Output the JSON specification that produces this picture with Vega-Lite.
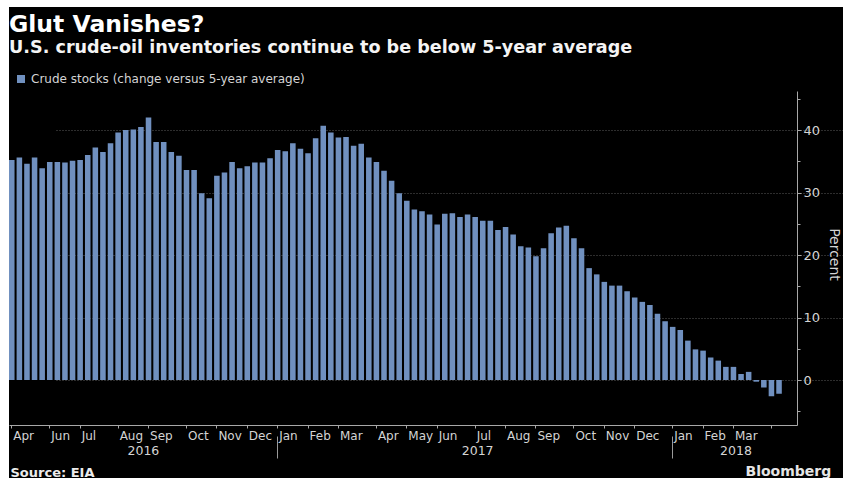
{
  "$schema": "https://vega.github.io/schema/vega-lite/v6.json",
  "width": 834,
  "height": 471,
  "autosize": "none",
  "padding": {"left": 9, "top": 7, "right": 0, "bottom": 0},
  "background": "#ffffff",
  "config": {
    "font": "DejaVu Sans",
    "view": {"fill": "#000000", "stroke": null}
  },
  "title": {
    "text": "Glut Vanishes?",
    "subtitle": "U.S. crude-oil inventories continue to be below 5-year average",
    "anchor": "start",
    "frame": "group",
    "orient": "top",
    "offset": -50,
    "fontSize": 23.5,
    "fontWeight": "bold",
    "color": "#ffffff",
    "subtitleFontSize": 17.6,
    "subtitleFontWeight": "bold",
    "subtitleColor": "#f4f4f4",
    "subtitlePadding": 3
  },
  "data": {
    "values": [
      {"week": "2016-04-29", "value": 35.2},
      {"week": "2016-05-06", "value": 35.6},
      {"week": "2016-05-13", "value": 34.6},
      {"week": "2016-05-20", "value": 35.6},
      {"week": "2016-05-27", "value": 33.9},
      {"week": "2016-06-03", "value": 34.9},
      {"week": "2016-06-10", "value": 34.9},
      {"week": "2016-06-17", "value": 34.8},
      {"week": "2016-06-24", "value": 35.1},
      {"week": "2016-07-01", "value": 35.2},
      {"week": "2016-07-08", "value": 36.0},
      {"week": "2016-07-15", "value": 37.2},
      {"week": "2016-07-22", "value": 36.5},
      {"week": "2016-07-29", "value": 37.9},
      {"week": "2016-08-05", "value": 39.6},
      {"week": "2016-08-12", "value": 40.0},
      {"week": "2016-08-19", "value": 40.1},
      {"week": "2016-08-26", "value": 40.5},
      {"week": "2016-09-02", "value": 42.0},
      {"week": "2016-09-09", "value": 38.1},
      {"week": "2016-09-16", "value": 38.1},
      {"week": "2016-09-23", "value": 36.5},
      {"week": "2016-09-30", "value": 35.9},
      {"week": "2016-10-07", "value": 33.6},
      {"week": "2016-10-14", "value": 33.6},
      {"week": "2016-10-21", "value": 29.9},
      {"week": "2016-10-28", "value": 29.1},
      {"week": "2016-11-04", "value": 32.7},
      {"week": "2016-11-11", "value": 33.2},
      {"week": "2016-11-18", "value": 34.9},
      {"week": "2016-11-25", "value": 33.9},
      {"week": "2016-12-02", "value": 34.2},
      {"week": "2016-12-09", "value": 34.8},
      {"week": "2016-12-16", "value": 34.8},
      {"week": "2016-12-23", "value": 35.5},
      {"week": "2017-01-06", "value": 36.8},
      {"week": "2017-01-13", "value": 36.6},
      {"week": "2017-01-20", "value": 37.9},
      {"week": "2017-01-27", "value": 37.0},
      {"week": "2017-02-03", "value": 36.3},
      {"week": "2017-02-10", "value": 38.7},
      {"week": "2017-02-17", "value": 40.7},
      {"week": "2017-02-24", "value": 39.6},
      {"week": "2017-03-03", "value": 38.8},
      {"week": "2017-03-10", "value": 38.9},
      {"week": "2017-03-17", "value": 37.5},
      {"week": "2017-03-24", "value": 37.8},
      {"week": "2017-03-31", "value": 35.6},
      {"week": "2017-04-07", "value": 34.9},
      {"week": "2017-04-14", "value": 33.5},
      {"week": "2017-04-21", "value": 31.9},
      {"week": "2017-04-28", "value": 29.9},
      {"week": "2017-05-05", "value": 28.7},
      {"week": "2017-05-12", "value": 27.3},
      {"week": "2017-05-19", "value": 27.0},
      {"week": "2017-05-26", "value": 26.5},
      {"week": "2017-06-02", "value": 24.9},
      {"week": "2017-06-09", "value": 26.6},
      {"week": "2017-06-16", "value": 26.7},
      {"week": "2017-06-23", "value": 26.1},
      {"week": "2017-06-30", "value": 26.5},
      {"week": "2017-07-07", "value": 26.1},
      {"week": "2017-07-14", "value": 25.5},
      {"week": "2017-07-21", "value": 25.5},
      {"week": "2017-07-28", "value": 24.0},
      {"week": "2017-08-04", "value": 24.5},
      {"week": "2017-08-11", "value": 23.3},
      {"week": "2017-08-18", "value": 21.4},
      {"week": "2017-08-25", "value": 21.2},
      {"week": "2017-09-01", "value": 19.8},
      {"week": "2017-09-08", "value": 21.1},
      {"week": "2017-09-15", "value": 23.5},
      {"week": "2017-09-22", "value": 24.4},
      {"week": "2017-09-29", "value": 24.7},
      {"week": "2017-10-06", "value": 22.7},
      {"week": "2017-10-13", "value": 21.1},
      {"week": "2017-10-20", "value": 17.9},
      {"week": "2017-10-27", "value": 16.9},
      {"week": "2017-11-03", "value": 15.7},
      {"week": "2017-11-10", "value": 15.1},
      {"week": "2017-11-17", "value": 15.1},
      {"week": "2017-11-24", "value": 14.2},
      {"week": "2017-12-01", "value": 13.2},
      {"week": "2017-12-08", "value": 12.5},
      {"week": "2017-12-15", "value": 12.0},
      {"week": "2017-12-22", "value": 10.6},
      {"week": "2017-12-29", "value": 9.4},
      {"week": "2018-01-05", "value": 8.5},
      {"week": "2018-01-12", "value": 8.0},
      {"week": "2018-01-19", "value": 6.3},
      {"week": "2018-01-26", "value": 4.9},
      {"week": "2018-02-02", "value": 4.7},
      {"week": "2018-02-09", "value": 3.6},
      {"week": "2018-02-16", "value": 3.1},
      {"week": "2018-02-23", "value": 2.1},
      {"week": "2018-03-02", "value": 2.1},
      {"week": "2018-03-09", "value": 0.96},
      {"week": "2018-03-16", "value": 1.3},
      {"week": "2018-03-23", "value": -0.27},
      {"week": "2018-03-30", "value": -1.2},
      {"week": "2018-04-06", "value": -2.6},
      {"week": "2018-04-13", "value": -2.2}
    ]
  },
  "layer": [
    {
      "mark": {"type": "bar"},
      "encoding": {
        "x": {
          "field": "week",
          "type": "ordinal",
          "scale": {"type": "band", "range": [0, 788], "paddingInner": 0.27, "paddingOuter": 1.115, "align": 0},
          "axis": {
            "orient": "bottom",
            "offset": -53,
            "values": ["2016-04-29", "2016-06-03", "2016-07-01", "2016-08-05", "2016-09-02", "2016-10-07", "2016-11-04", "2016-12-02", "2017-01-06", "2017-02-03", "2017-03-03", "2017-04-07", "2017-05-05", "2017-06-02", "2017-07-07", "2017-08-04", "2017-09-01", "2017-10-06", "2017-11-03", "2017-12-01", "2018-01-05", "2018-02-02", "2018-03-02", "2018-04-06"],
            "labelExpr": "datum.value == '2018-04-06' ? '' : ['Jan','Feb','Mar','Apr','May','Jun','Jul','Aug','Sep','Oct','Nov','Dec'][toNumber(substring(datum.value, 5, 7)) - 1]",
            "labelAngle": 0,
            "labelAlign": "left",
            "labelOffset": 1.5,
            "labelOverlap": false,
            "labelFontSize": 12,
            "labelColor": "#d4d4d4",
            "labelPadding": 2,
            "tickSize": 3,
            "tickColor": "#a8a8a8",
            "domainColor": "#a8a8a8",
            "grid": false,
            "title": "Source: EIA",
            "titleX": 1,
            "titleY": 51,
            "titleAlign": "left",
            "titleAnchor": "start",
            "titleBaseline": "alphabetic",
            "titleAngle": 0,
            "titleFontSize": 13,
            "titleFontWeight": "bold",
            "titleColor": "#ececec"
          }
        },
        "y": {
          "field": "value",
          "type": "quantitative",
          "scale": {"domain": [-7.2, 46.24], "range": [418, 84], "nice": false, "zero": false},
          "axis": {
            "orient": "right",
            "offset": -46,
            "values": [0, 10, 20, 30, 40],
            "grid": true,
            "gridColor": "#5a5a5a",
            "gridDash": [1, 2],
            "gridWidth": 1,
            "domainColor": "#a8a8a8",
            "tickColor": "#a8a8a8",
            "tickSize": 4,
            "labelFontSize": 13,
            "labelColor": "#d4d4d4",
            "labelPadding": 2,
            "title": "Percent",
            "titleFontSize": 14,
            "titleFontWeight": "normal",
            "titleColor": "#d4d4d4",
            "titleAngle": 90,
            "titleX": 36,
            "titleY": 247,
            "titleAlign": "center",
            "titleBaseline": "middle"
          }
        },
        "y2": {"datum": 0},
        "color": {
          "datum": "Crude stocks (change versus 5-year average)",
          "type": "nominal",
          "scale": {"range": ["#7090bf"]},
          "legend": {
            "orient": "none",
            "legendX": 6,
            "legendY": 66,
            "title": null,
            "symbolType": "square",
            "symbolSize": 64,
            "symbolStrokeWidth": 0,
            "symbolOpacity": 1,
            "labelFontSize": 12,
            "labelLimit": 500,
            "labelColor": "#d4d4d4",
            "labelOffset": 4,
            "padding": 0
          }
        }
      }
    },
    {
      "mark": {"type": "bar", "opacity": 0},
      "encoding": {
        "x": {
          "field": "week",
          "type": "ordinal",
          "axis": {
            "orient": "bottom",
            "offset": -53,
            "values": ["2016-08-26", "2017-07-07", "2018-03-02"],
            "labelExpr": "substring(datum.value, 0, 4)",
            "labelAngle": 0,
            "labelAlign": "center",
            "labelOffset": 2.5,
            "labelOverlap": false,
            "labelFontSize": 12.5,
            "labelColor": "#d4d4d4",
            "labelPadding": 19,
            "ticks": false,
            "tickSize": 0,
            "domain": false,
            "grid": false,
            "title": "Bloomberg",
            "titleX": 736,
            "titleY": 50,
            "titleAlign": "left",
            "titleAnchor": "start",
            "titleBaseline": "alphabetic",
            "titleAngle": 0,
            "titleFontSize": 14,
            "titleFontWeight": "bold",
            "titleColor": "#e6e6e6"
          }
        },
        "y": {
          "field": "value",
          "type": "quantitative",
          "axis": {
            "orient": "right",
            "offset": -46,
            "values": [-5, 5, 15, 25, 35, 45],
            "labels": false,
            "domain": false,
            "grid": false,
            "tickSize": 3,
            "tickColor": "#a8a8a8",
            "title": null
          }
        },
        "y2": {"datum": 0}
      }
    },
    {
      "mark": {"type": "bar", "opacity": 0},
      "encoding": {
        "x": {
          "field": "week",
          "type": "ordinal",
          "axis": {
            "orient": "bottom",
            "offset": -42,
            "values": ["2017-01-06", "2018-01-05"],
            "labels": false,
            "domain": false,
            "grid": false,
            "tickSize": 22,
            "tickColor": "#9a9a9a",
            "title": null
          }
        },
        "y": {"field": "value", "type": "quantitative", "axis": null},
        "y2": {"datum": 0}
      }
    }
  ],
  "resolve": {"axis": {"x": "independent", "y": "independent"}}
}
